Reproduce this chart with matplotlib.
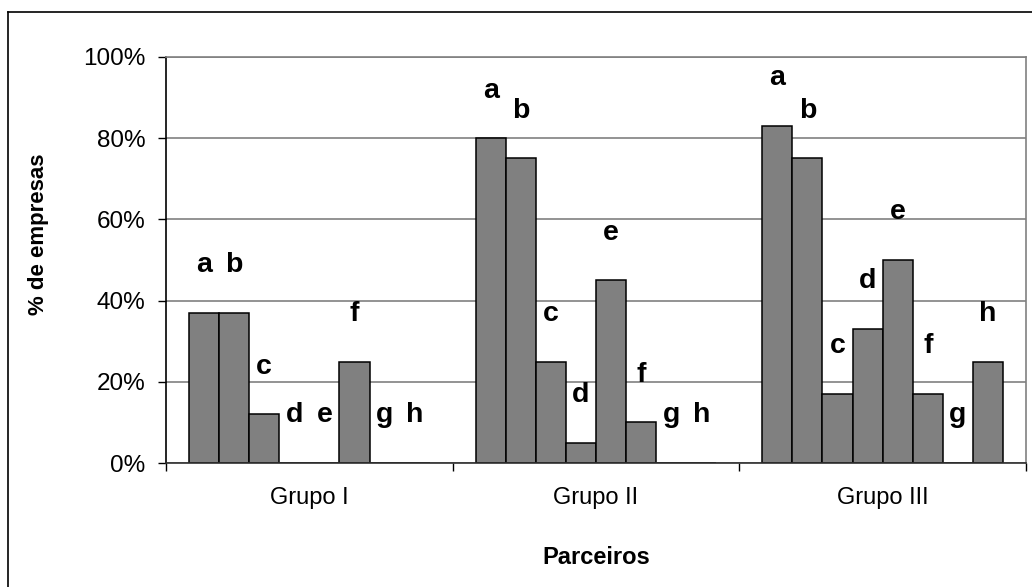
import numpy as np
import matplotlib.pyplot as plt
from matplotlib.lines import Line2D

plt.rcParams['font.family'] = ['Liberation Sans', 'DejaVu Sans']

groups = ['Grupo I', 'Grupo II', 'Grupo III']
letters = ['a', 'b', 'c', 'd', 'e', 'f', 'g', 'h']
grupo_1 = [37, 37, 12, 0, 0, 25, 0, 0]
grupo_2 = [80, 75, 25, 5, 45, 10, 0, 0]
grupo_3 = [83, 75, 17, 33, 50, 17, 0, 25]
values = [grupo_1, grupo_2, grupo_3]

fig = plt.figure(figsize=(10.32, 5.87), dpi=100)
ax = fig.add_axes([166/1032, 1 - 463/587, 860/1032, 406/587])
ax.set_axisbelow(True)

width = 0.105
offsets = (np.arange(8) - 3.5) * width
for g, vals in enumerate(values):
    x = g + offsets
    ax.bar(x, vals, width=width, color='#808080', edgecolor='black',
           linewidth=1.1, zorder=2)
    for xi, v, lab in zip(x, vals, letters):
        ax.text(xi, v + 10, lab, ha='center', va='baseline',
                fontsize=20.5, fontweight='bold', zorder=4)

ax.set_xlim(-0.5, 2.5)
ax.set_ylim(0, 100)
ax.set_yticks(np.arange(0, 101, 20))
ax.set_yticklabels(['%d%%' % t for t in range(0, 101, 20)], fontsize=17.5)
ax.tick_params(axis='y', length=6, width=1, pad=9)
ax.grid(axis='y', color='#808080', linewidth=1.2)

ax.set_xticks([-0.5, 0.5, 1.5, 2.5])
ax.set_xticklabels([])
ax.set_xticks([0, 1, 2], minor=True)
ax.set_xticklabels(groups, minor=True, fontsize=17)
ax.tick_params(axis='x', which='major', length=6, width=1)
ax.tick_params(axis='x', which='minor', length=0, pad=17)

ax.spines['left'].set_color('black')
ax.spines['bottom'].set_color('#303030')
ax.spines['top'].set_color('#808080')
ax.spines['right'].set_color('#808080')
for s in ax.spines.values():
    s.set_linewidth(1.2)

ax.set_ylabel('% de empresas', fontsize=16, fontweight='bold')
ax.yaxis.set_label_coords(-0.136, 0.564)
ax.set_xlabel('Parceiros', fontsize=17, fontweight='bold')
ax.xaxis.set_label_coords(0.5, -0.205)

# outer chart border (left and top visible)
fig.add_artist(Line2D([8/1032, 8/1032], [0, 1 - 12/587], color='black', linewidth=1.2))
fig.add_artist(Line2D([8/1032, 1], [1 - 12/587, 1 - 12/587], color='black', linewidth=1.2))

fig.savefig('out.png', dpi=100)
